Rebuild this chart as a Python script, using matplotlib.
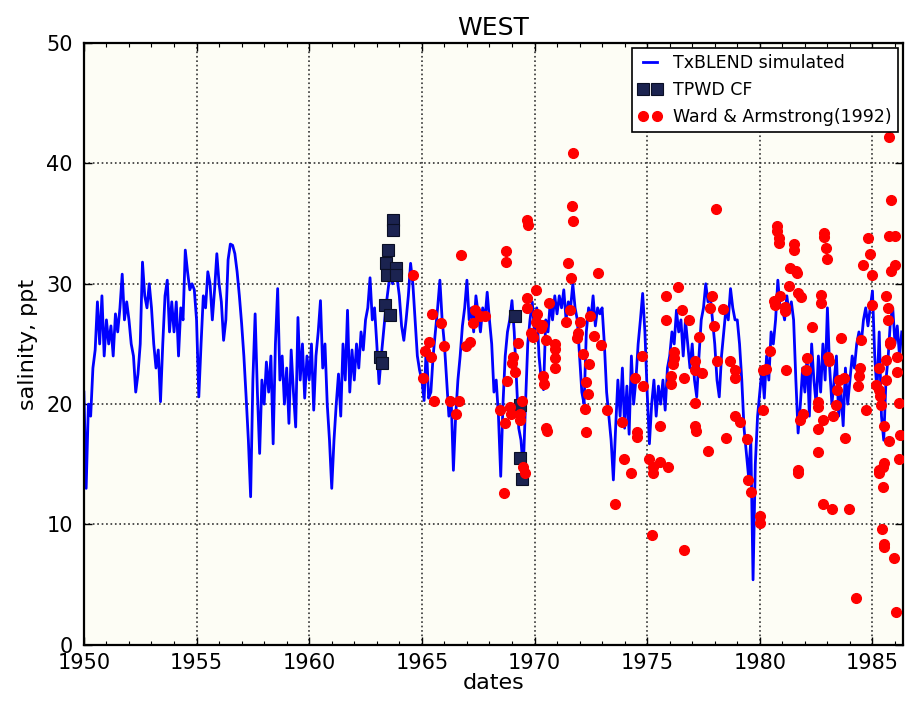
import numpy as np
import matplotlib
matplotlib.use("Agg")
import matplotlib.pyplot as plt
from matplotlib.ticker import MultipleLocator

# simulated salinity, ten readings per year starting 1950.0
sim = [
    21, 13, 20, 19, 23, 24.5, 28.5, 25, 29, 24,          # 1950
    27, 25, 26.5, 24, 27.5, 26, 28, 30.8, 27, 28.5,      # 1951
    27, 25, 24, 21, 22.5, 25, 31.8, 29, 28, 30,          # 1952
    28, 25, 23, 24.5, 20.2, 25, 29, 30.3, 26, 28.5,      # 1953
    26, 28.5, 24, 28, 27, 32.8, 31, 29.5, 30, 29.5,      # 1954
    27, 20.6, 25, 29, 28, 31, 30, 27, 29.5, 32.5,        # 1955
    30, 28.5, 25.3, 27, 32, 33.3, 33.2, 32.5, 31, 29,    # 1956
    26.7, 24, 20.6, 17, 12.3, 22, 27.5, 21, 15.9, 22,    # 1957
    20, 23.5, 21, 24, 16.7, 25, 29.6, 22, 24, 20,        # 1958
    23, 18.4, 24.5, 21, 18.1, 27.2, 22, 25, 20.5, 24,    # 1959
    22, 25, 19.5, 24, 26, 28.6, 23, 25, 20, 17,          # 1960
    13, 17, 20, 22.5, 19, 25, 22, 27.8, 21, 24.5,        # 1961
    22, 25, 23, 26, 24.5, 27, 28, 30.5, 27, 28,          # 1962
    25, 21.7, 24, 26, 28, 29.5, 31, 30, 31.5, 30.5,      # 1963
    29, 26.5, 25.3, 27, 29, 31.7, 30, 27, 24, 22.8,      # 1964
    22, 20.3, 25, 20.5, 21, 24, 26, 28, 30.3, 27,        # 1965
    25, 22, 19, 20.5, 14.5, 19, 22, 24, 26.5, 28,        # 1966
    30.3, 27, 28, 26, 29, 27.5, 26, 28, 27, 29.3,        # 1967
    27, 25, 21, 22, 19, 14, 20, 24, 26, 27,              # 1968
    28.6, 26, 22, 18, 17, 14.5, 20, 25, 27, 28.5,        # 1969
    26, 28, 24, 22, 21.2, 27, 26, 28.5, 27, 29,          # 1970
    27.5, 29, 28, 29.5, 27, 28.5, 28, 30, 28, 27,        # 1971
    24, 21, 20, 26, 28, 27, 29, 26.5, 28, 27.5,          # 1972
    28, 25, 21, 19, 17, 13.7, 18, 22, 19, 23,            # 1973
    18, 21.5, 17.5, 24, 20, 22, 25, 27, 29.2, 26,        # 1974
    21, 16.7, 20, 22, 19, 21.5, 20, 22, 19.5, 23,        # 1975
    24, 26, 25, 27.8, 26, 27, 24, 27, 25, 23,            # 1976
    25, 22, 20.6, 24, 27, 28, 30, 28.5, 29, 27,          # 1977
    25, 22, 20.6, 24, 26, 28, 27, 29.6, 28, 27,          # 1978
    27, 25, 22, 18, 16, 14, 17, 5.4, 15, 19,             # 1979
    21, 23, 20.5, 24, 22, 26, 25, 27, 30.3, 28,          # 1980
    28, 27, 29, 27.5, 28.5, 27, 22, 17.6, 20, 23,        # 1981
    21, 24, 19, 25, 22, 20, 24, 21, 25, 22,              # 1982
    28, 23, 20, 22, 24, 19, 21, 18.2, 23, 20,            # 1983
    22, 24, 23, 25, 26, 25, 27, 28, 26.5, 28,            # 1984
    29.4, 24, 21, 26, 19, 17, 22, 24, 27, 28,            # 1985
    25, 26.5, 24, 26,                                    # 1986
]
sim_year = 1950 + 0.1 * np.arange(len(sim))

# TPWD CF samples
tpwd_year = [1963.72, 1963.72, 1963.5, 1963.43, 1963.46, 1963.87, 1963.87,
             1963.35, 1963.58, 1963.13, 1963.25, 1969.12, 1969.34, 1969.37, 1969.46]
tpwd_sal = [35.3, 34.5, 32.8, 31.7, 30.7, 31.3, 30.7,
            28.2, 27.4, 23.9, 23.4, 27.3, 19.9, 15.5, 13.8]

# Ward & Armstrong (1992) samples
wa_year = [
    1964.61, 1965.05, 1965.12, 1965.31, 1965.41, 1965.45, 1965.52, 1965.87, 1965.99,
    1966.24, 1966.52, 1966.67, 1966.72, 1966.97, 1967.15, 1967.25, 1967.38, 1967.57,
    1967.79, 1968.46, 1968.66, 1968.68, 1968.75, 1968.75, 1968.8, 1968.92, 1968.95,
    1968.98, 1969.05, 1969.12, 1969.27, 1969.34, 1969.36, 1969.46, 1969.49, 1969.56,
    1969.66, 1969.69, 1969.65, 1969.65, 1969.86, 1969.92, 1970.05, 1970.05, 1970.11,
    1970.3, 1970.35, 1970.37, 1970.4, 1970.5, 1970.53, 1970.55, 1970.65, 1970.9,
    1970.9, 1970.93, 1970.93, 1971.41, 1971.48, 1971.56, 1971.6, 1971.68, 1971.7,
    1971.7, 1971.9, 1971.93, 1972.0, 1972.15, 1972.22, 1972.27, 1972.3, 1972.37,
    1972.41, 1972.47, 1972.62, 1972.82, 1972.97, 1973.2, 1973.56, 1973.87, 1973.99,
    1974.28, 1974.47, 1974.56, 1974.56, 1974.76, 1974.82, 1975.09, 1975.23, 1975.25,
    1975.27, 1975.55, 1975.57, 1975.84, 1975.84, 1975.91, 1976.07, 1976.08, 1976.17,
    1976.17, 1976.16, 1976.37, 1976.53, 1976.62, 1976.63, 1976.85, 1977.11, 1977.11,
    1977.11, 1977.14, 1977.15, 1977.3, 1977.42, 1977.7, 1977.77, 1977.9, 1977.97,
    1978.06, 1978.08, 1978.37, 1978.49, 1978.69, 1978.88, 1978.88, 1978.88, 1979.12,
    1979.44, 1979.47, 1979.62, 1979.99, 1979.99, 1980.13, 1980.13, 1980.29, 1980.43,
    1980.65, 1980.67, 1980.76, 1980.78, 1980.83, 1980.86, 1980.88, 1981.1, 1981.12,
    1981.18, 1981.29, 1981.35, 1981.5, 1981.5, 1981.62, 1981.66, 1981.69, 1981.69,
    1981.7, 1981.8, 1981.84, 1981.91, 1982.06, 1982.09, 1982.33, 1982.58, 1982.58,
    1982.58, 1982.58, 1982.73, 1982.73, 1982.8, 1982.8, 1982.83, 1982.83, 1982.92,
    1982.98, 1983.03, 1983.05, 1983.2, 1983.27, 1983.39, 1983.43, 1983.51, 1983.61,
    1983.72, 1983.79, 1983.98, 1984.25, 1984.35, 1984.4, 1984.46, 1984.5, 1984.6,
    1984.72, 1984.8, 1984.87, 1984.99, 1984.99, 1985.17, 1985.31, 1985.31, 1985.33,
    1985.31, 1985.28, 1985.39, 1985.43, 1985.46, 1985.46, 1985.53, 1985.53, 1985.53,
    1985.53, 1985.58, 1985.61, 1985.61, 1985.68, 1985.68, 1985.72, 1985.72, 1985.73,
    1985.79, 1985.79, 1985.83, 1985.83, 1985.94, 1985.98, 1985.98, 1986.03, 1986.08,
    1986.08, 1986.17, 1986.2, 1986.17,
]
wa_sal = [
    30.7, 22.2, 24.4, 25.2, 23.9, 27.5, 20.3, 26.7, 24.8,
    20.3, 19.2, 20.3, 32.4, 24.8, 25.2, 26.7, 27.8, 27.3,
    27.3, 19.5, 12.6, 18.4, 32.7, 31.8, 21.9, 19.8, 19.2,
    23.4, 23.9, 22.7, 25.1, 19.2, 18.7, 20.3, 14.8, 14.3,
    35.3, 34.9, 28.8, 28.0, 25.9, 25.6, 29.5, 26.8, 27.5,
    26.3, 26.6, 22.3, 21.7, 25.3, 18.0, 17.8, 28.4, 25.0,
    24.6, 23.8, 23.0, 26.8, 31.7, 27.8, 30.5, 36.5, 35.2,
    40.9, 25.5, 25.9, 26.8, 24.2, 19.6, 17.7, 21.8, 20.8,
    23.3, 27.3, 25.7, 30.9, 24.9, 19.5, 11.7, 18.5, 15.4,
    14.3, 22.2, 17.7, 17.3, 24.0, 21.5, 15.4, 9.1, 14.8,
    14.3, 18.2, 15.2, 29.0, 27.0, 14.8, 22.3, 21.7, 24.3,
    23.8, 23.3, 29.7, 27.8, 7.9, 22.2, 27.0, 23.6, 22.8,
    20.1, 18.2, 17.8, 25.6, 22.6, 16.1, 28.0, 29.0, 26.5,
    36.2, 23.6, 27.9, 17.2, 23.6, 22.8, 22.2, 19.0, 18.5,
    17.1, 13.7, 12.7, 10.7, 10.1, 22.8, 19.5, 22.9, 24.4,
    28.6, 28.2, 34.8, 34.4, 33.8, 33.4, 29.0, 28.1, 27.7,
    22.8, 29.8, 31.3, 33.3, 32.8, 31.1, 30.9, 29.2, 14.5,
    14.3, 18.7, 28.9, 19.2, 22.8, 23.8, 26.4, 20.2, 19.8,
    17.9, 16.0, 29.1, 28.4, 18.7, 11.7, 34.2, 33.9, 33.0,
    32.1, 23.9, 23.6, 11.3, 19.0, 19.9, 21.2, 22.0, 25.5,
    22.2, 17.2, 11.3, 3.9, 21.5, 22.3, 23.0, 25.3, 31.6,
    19.5, 33.8, 32.5, 30.7, 28.2, 21.6, 23.0, 21.2, 20.7,
    14.5, 14.3, 19.9, 9.6, 14.8, 13.1, 18.2, 15.1, 8.4,
    8.1, 22.0, 29.0, 23.7, 28.0, 27.0, 16.9, 34.0, 42.2,
    25.2, 25.0, 37.0, 31.1, 7.2, 34.0, 31.6, 2.7, 23.9,
    22.7, 20.1, 17.4, 15.4,
]

fig = plt.figure(figsize=(9.12, 7.07), dpi=100)
ax = fig.add_axes([0.092, 0.088, 0.898, 0.851])
ax.set_facecolor('#fdfdf5')

ax.plot(sim_year, sim, color='blue', linewidth=2.0, label='TxBLEND simulated', zorder=2)
ax.plot(tpwd_year, tpwd_sal, linestyle='none', marker='s', markersize=8,
        markerfacecolor='#1b2350', markeredgecolor='#0a0f25', markeredgewidth=0.8,
        label='TPWD CF', zorder=3)
ax.plot(wa_year, wa_sal, linestyle='none', marker='o', markersize=7,
        markerfacecolor='red', markeredgecolor='red', label='Ward & Armstrong(1992)', zorder=4)

ax.set_xlim(1950, 1986.35)
ax.set_ylim(0, 50)
ax.xaxis.set_major_locator(MultipleLocator(5))
ax.xaxis.set_minor_locator(MultipleLocator(1))
ax.yaxis.set_major_locator(MultipleLocator(10))
ax.tick_params(which='both', direction='in', top=True, right=True, labelsize=15)
ax.tick_params(which='major', length=6, width=1)
ax.tick_params(which='minor', length=3, width=0.8)
ax.tick_params(axis='x', pad=6)
ax.tick_params(axis='y', pad=8)
ax.grid(True, which='major', linestyle=':', color='#333333', linewidth=1.2)
for s in ax.spines.values():
    s.set_linewidth(1.6)

ax.set_title('WEST', fontsize=18)
ax.set_xlabel('dates', fontsize=16, labelpad=0)
ax.set_ylabel('salinity, ppt', fontsize=16, labelpad=6)

leg = ax.legend(loc='upper right', numpoints=2, fontsize=12.5, handlelength=1.4,
                handletextpad=0.6, borderpad=0.35, fancybox=False, framealpha=1,
                borderaxespad=0.3, labelspacing=0.5)
leg.get_frame().set_edgecolor('black')
leg.get_frame().set_linewidth(1.2)

fig.savefig('out.png', dpi=100)
